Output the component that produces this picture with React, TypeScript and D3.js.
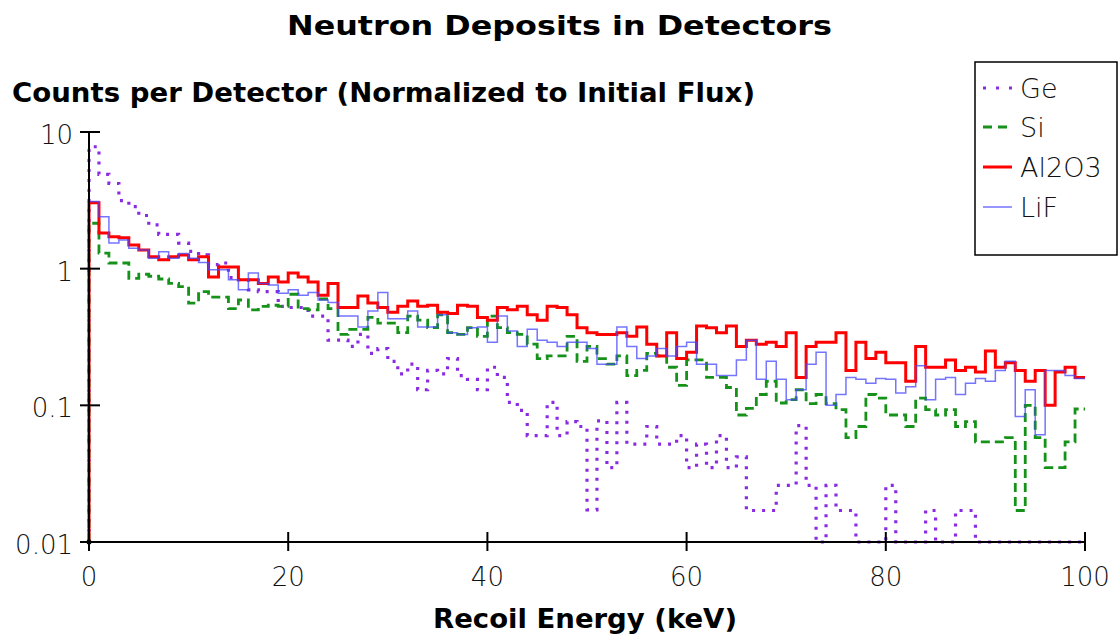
import React from "react";
import * as d3 from "d3";

const W = 1119;
const H = 639;

const seriesNames = ["Ge", "Si", "Al2O3", "LiF"];

const ge = [
  7.8, 4.9, 4.2, 3.15, 2.84, 2.45, 2.09, 1.78, 1.78, 1.54,
  1.34, 1.26, 1.07, 1.1, 0.86, 0.83, 0.7, 0.68, 0.68, 0.53,
  0.52, 0.52, 0.45, 0.45, 0.3, 0.3, 0.27, 0.33, 0.24, 0.26,
  0.21, 0.17, 0.2, 0.13, 0.18, 0.17, 0.22, 0.165, 0.155, 0.13,
  0.19, 0.16, 0.105, 0.092, 0.06, 0.06, 0.105, 0.06, 0.076, 0.07,
  0.0172, 0.077, 0.035, 0.105, 0.052, 0.052, 0.07, 0.052, 0.052, 0.06,
  0.035, 0.052, 0.035, 0.06, 0.035, 0.042, 0.017, 0.017, 0.017, 0.026,
  0.026, 0.071, 0.026, 0, 0.026, 0.017, 0.017, 0, 0, 0,
  0.026, 0, 0, 0, 0.017, 0, 0, 0.017, 0.017, 0,
  0, 0, 0, 0, 0, 0, 0, 0, 0, 0,
];

const si = [
  2.15, 1.3, 1.1, 1.1, 0.85, 0.91, 0.88, 0.84, 0.78, 0.74,
  0.56, 0.68, 0.62, 0.62, 0.51, 0.59, 0.5, 0.53, 0.54, 0.53,
  0.65, 0.51, 0.5, 0.6, 0.51, 0.33, 0.36, 0.36, 0.44, 0.4,
  0.4, 0.34, 0.45, 0.42, 0.37, 0.46, 0.34, 0.33, 0.37, 0.32,
  0.45, 0.37, 0.34, 0.33, 0.28, 0.22, 0.23, 0.23, 0.32, 0.21,
  0.27, 0.22, 0.2, 0.23, 0.165, 0.18, 0.24, 0.23, 0.19, 0.14,
  0.215, 0.215, 0.16, 0.16, 0.135, 0.085, 0.095, 0.12, 0.15, 0.104,
  0.11, 0.13, 0.103, 0.12, 0.103, 0.093, 0.058, 0.07, 0.12, 0.113,
  0.085, 0.085, 0.07, 0.113, 0.093, 0.085, 0.093, 0.07, 0.076, 0.054,
  0.054, 0.054, 0.058, 0.017, 0.1, 0.058, 0.035, 0.035, 0.054, 0.094,
];

const al2o3 = [
  3.03, 1.82, 1.71, 1.68, 1.49, 1.37, 1.22, 1.16, 1.22, 1.26,
  1.16, 1.22, 0.87, 1.03, 1.03, 0.83, 0.83, 0.78, 0.87, 0.8,
  0.93, 0.87, 0.8, 0.64, 0.78, 0.52, 0.52, 0.63, 0.56, 0.52,
  0.48, 0.53, 0.58, 0.53, 0.54, 0.48, 0.47, 0.54, 0.53, 0.44,
  0.42, 0.52, 0.5, 0.53, 0.46, 0.42, 0.53, 0.52, 0.46, 0.37,
  0.34, 0.33, 0.33, 0.34, 0.32, 0.375, 0.28, 0.23, 0.34, 0.22,
  0.245, 0.38, 0.37, 0.34, 0.38, 0.27, 0.3, 0.28, 0.29, 0.27,
  0.34, 0.16, 0.27, 0.29, 0.29, 0.34, 0.18, 0.29, 0.22, 0.245,
  0.205, 0.205, 0.15, 0.27, 0.19, 0.19, 0.215, 0.18, 0.19, 0.175,
  0.25, 0.19, 0.205, 0.18, 0.15, 0.18, 0.1, 0.175, 0.19, 0.16,
];

const lif = [
  3.1, 2.4, 1.54, 1.62, 1.41, 1.37, 1.19, 1.33, 1.19, 1.29,
  1.19, 1.11, 0.98, 0.98, 0.83, 0.7, 0.93, 0.78, 0.76, 0.66,
  0.7, 0.64, 0.67, 0.59, 0.565, 0.45, 0.45, 0.375, 0.49, 0.67,
  0.43, 0.43, 0.49, 0.375, 0.375, 0.46, 0.34, 0.33, 0.37, 0.375,
  0.29, 0.45, 0.35, 0.27, 0.36, 0.3, 0.29, 0.27, 0.29, 0.29,
  0.26, 0.2, 0.2, 0.375, 0.27, 0.22, 0.23, 0.26, 0.23, 0.27,
  0.29, 0.2, 0.2, 0.165, 0.165, 0.215, 0.3, 0.155, 0.21, 0.155,
  0.11, 0.13, 0.2, 0.245, 0.1, 0.12, 0.16, 0.155, 0.145, 0.157,
  0.155, 0.123, 0.137, 0.195, 0.11, 0.155, 0.16, 0.12, 0.145, 0.157,
  0.15, 0.18, 0.21, 0.083, 0.13, 0.061, 0.18, 0.18, 0.165, 0.157,
];

const xTicks = [0, 20, 40, 60, 80, 100];
const yTicks = [10, 1, 0.1, 0.01];
const yTickLabels = ["10", "1", "0.1", "0.01"];

const styles = [
  { color: "#8a2be2", width: 3.2, dash: "3 7", opacity: 1 },
  { color: "#16911a", width: 2.8, dash: "9 5", opacity: 1 },
  { color: "#ff0000", width: 3, dash: "", opacity: 1 },
  { color: "#4646ff", width: 1.5, dash: "", opacity: 0.75 },
];

const FONT = "'DejaVu Sans', Verdana, sans-serif";

export default function App() {
  const x = d3.scaleLinear().domain([0, 100]).range([89, 1085]);
  const y = d3.scaleLog().domain([0.01, 10]).range([542, 132]);
  const yv = (v: number) => (v <= 0.01 ? y(0.01) : y(v));

  const data = [ge, si, al2o3, lif];
  const line = d3
    .line<[number, number]>()
    .x((d) => x(d[0]))
    .y((d) => yv(d[1]))
    .curve(d3.curveStepAfter);

  const makePts = (arr: number[]): [number, number][] => {
    const pts: [number, number][] = [[0, 0]];
    arr.forEach((v, i) => pts.push([i, v]));
    pts.push([arr.length, arr[arr.length - 1]]);
    return pts;
  };

  const legendY = [88, 127, 167, 207];

  return (
    <svg
      width={W}
      height={H}
      style={{ position: "absolute", left: 0, top: 0, background: "#fff" }}
      fontFamily={FONT}
    >
      <rect x={0} y={0} width={W} height={H} fill="#fff" />
      <text
        x={287}
        y={35}
        fontSize={27}
        fontWeight="bold"
        textLength={545}
        lengthAdjust="spacingAndGlyphs"
      >
        Neutron Deposits in Detectors
      </text>
      <text
        x={12}
        y={102}
        fontSize={27}
        fontWeight="bold"
        textLength={743}
        lengthAdjust="spacingAndGlyphs"
      >
        Counts per Detector (Normalized to Initial Flux)
      </text>
      <text
        x={433}
        y={628}
        fontSize={27}
        fontWeight="bold"
        textLength={304}
        lengthAdjust="spacingAndGlyphs"
      >
        Recoil Energy (keV)
      </text>

      {data.map((arr, k) => (
        <path
          key={seriesNames[k]}
          d={line(makePts(arr)) || ""}
          fill="none"
          stroke={styles[k].color}
          strokeWidth={styles[k].width}
          strokeDasharray={styles[k].dash || undefined}
          strokeOpacity={styles[k].opacity}
        />
      ))}

      <line x1={x(0)} x2={x(0)} y1={y(10)} y2={y(0.01)} stroke="#000" strokeWidth={2} />
      <line x1={x(0)} x2={x(100)} y1={y(0.01)} y2={y(0.01)} stroke="#000" strokeWidth={2} />
      {yTicks.map((t, i) => (
        <g key={"y" + t}>
          <line x1={x(0) - 9} x2={x(0) + 11} y1={y(t)} y2={y(t)} stroke="#000" strokeWidth={2} />
          <text
            x={73}
            y={y(t) + 3}
            fontSize={26}
            fontWeight={300}
            textAnchor="end"
            dominantBaseline="central"
            fill="#111"
          >
            {yTickLabels[i]}
          </text>
        </g>
      ))}
      {xTicks.map((t) => (
        <g key={"x" + t}>
          <line x1={x(t)} x2={x(t)} y1={y(0.01) - 10} y2={y(0.01) + 9} stroke="#000" strokeWidth={2} />
          <text x={x(t)} y={586} fontSize={26} fontWeight={300} textAnchor="middle" fill="#111">
            {t}
          </text>
        </g>
      ))}
      <circle cx={x(0)} cy={y(0.01)} r={2.5} fill="#000" />

      <rect x={975} y={62} width={142} height={193} fill="#fff" stroke="#000" strokeWidth={1.5} />
      {seriesNames.map((n, k) => (
        <g key={"lg" + n}>
          <line
            x1={983}
            x2={1012}
            y1={legendY[k]}
            y2={legendY[k]}
            stroke={styles[k].color}
            strokeWidth={styles[k].width}
            strokeDasharray={k === 0 ? "3 10" : k === 1 ? "9 6" : undefined}
            strokeOpacity={styles[k].opacity}
          />
          <text
            x={1020}
            y={legendY[k]}
            fontSize={27}
            fontWeight={300}
            dominantBaseline="central"
            fill="#111"
          >
            {n}
          </text>
        </g>
      ))}
    </svg>
  );
}
